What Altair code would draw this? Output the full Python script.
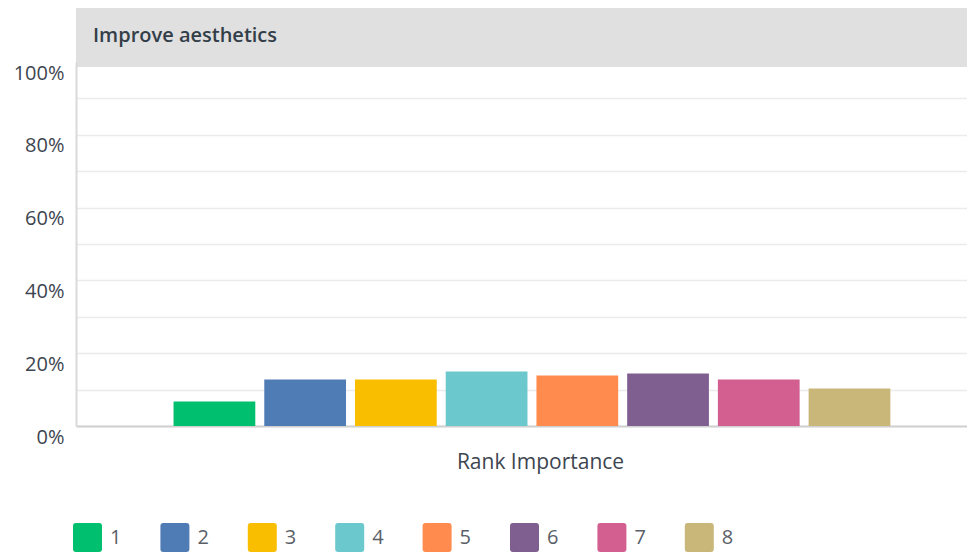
import altair as alt
import pandas as pd

# ---- data ----
title_text = ["Improve aesthetics"]
ranks = ["1", "2", "3", "4", "5", "6", "7", "8"]
values = [0.067, 0.128, 0.128, 0.150, 0.139, 0.144, 0.128, 0.103]
colors = ["#00bf6f", "#507cb6", "#f9be00", "#6bc8cd", "#ff8b4f", "#7f5f90", "#d25f90", "#c9b77a"]
y_ticks = [0.0, 0.1, 0.2, 0.3, 0.4, 0.5, 0.6, 0.7, 0.8, 0.9, 1.0]
x_title = "Rank Importance"

FONT = "Open Sans"
W = 891
H = 359
TEXT = "#3d4550"

df = pd.DataFrame({"rank": ranks, "value": values})
hdf = pd.DataFrame({"title": title_text})

ROUND_RECT = ("M-0.8,-1H0.8Q1,-1 1,-0.8V0.8Q1,1 0.8,1H-0.8Q-1,1 -1,0.8"
              "V-0.8Q-1,-1 -0.8,-1Z")

header = alt.Chart(hdf).mark_text(
    align="left", baseline="middle", font=FONT, fontSize=20,
    fontWeight=600, color="#333e48"
).encode(
    x=alt.value(17), y=alt.value(29), text="title:N"
).properties(
    width=W, height=60,
    view=alt.ViewBackground(fill="#e0e0e0", strokeWidth=0)
)

bars = alt.Chart(df).mark_bar().encode(
    x=alt.X(
        "rank:N", sort=ranks,
        scale=alt.Scale(paddingInner=0.0989, paddingOuter=0.96, align=0.56),
        axis=alt.Axis(
            labels=False, ticks=False, grid=False,
            domainColor="#d0d0d0", domainWidth=2,
            title=x_title, titleFont=FONT, titleFontSize=21,
            titleFontWeight="normal", titleColor=TEXT,
            titleX=464, titleY=36, titleBaseline="middle",
        ),
    ),
    y=alt.Y(
        "value:Q",
        scale=alt.Scale(domain=[0, 1], range=[H, -5]),
        axis=alt.Axis(
            values=y_ticks, format=".0%",
            labelExpr="round(datum.value*10) % 2 == 0 ? datum.label : ''",
            ticks=False, labelPadding=12, labelOffset=11,
            labelFont=FONT, labelFontSize=20, labelColor=TEXT,
            domainColor="#dadada", domainWidth=2,
            gridColor="#ebebeb", gridWidth=1.5,
            gridOpacity={"condition": {"test": "datum.value > 0.95", "value": 0}, "value": 1},
            title=None, minExtent=68, maxExtent=68,
        ),
    ),
    color=alt.Color(
        "rank:N", sort=ranks,
        scale=alt.Scale(domain=ranks, range=colors),
        legend=alt.Legend(
            orient="none", legendX=-3, legendY=516, direction="horizontal",
            columns=8, title=None, symbolType=ROUND_RECT, symbolSize=841,
            symbolStrokeWidth=0, symbolOpacity=1,
            labelFont=FONT, labelFontSize=20, labelColor="#5a6068",
            labelOffset=8, columnPadding=38.4, padding=0,
        ),
    ),
).properties(width=W, height=H)

chart = alt.vconcat(header, bars, spacing=0, bounds="flush").properties(
    padding={"left": 0, "top": -1, "right": 0, "bottom": 0}
).configure_view(strokeWidth=0)

chart.save("out.html", embed_options={"renderer": "svg", "actions": False})
